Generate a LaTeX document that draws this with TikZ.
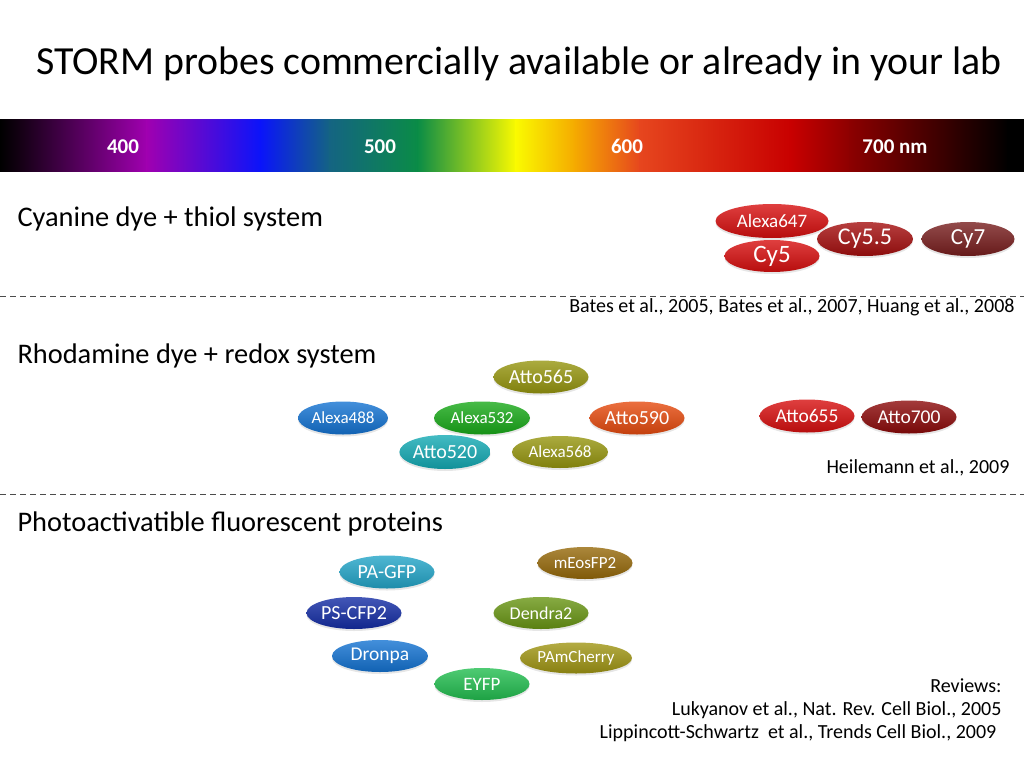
\documentclass[tikz,border=0pt]{standalone}
\usepackage{fontspec}
\setmainfont{Carlito}
\usepackage{xcolor}
\usetikzlibrary{shapes.geometric,shadows}

\definecolor{spk0}{RGB}{20,0,20}
\definecolor{spviolet}{RGB}{160,0,176}
\definecolor{spblue}{RGB}{10,20,250}
\definecolor{spteal}{RGB}{20,100,130}
\definecolor{spgreen}{RGB}{10,140,70}
\definecolor{spyellow}{RGB}{250,250,0}
\definecolor{sporange}{RGB}{245,170,0}
\definecolor{spredor}{RGB}{230,70,30}
\definecolor{spred}{RGB}{200,0,0}
\definecolor{spdark}{RGB}{140,0,0}
\definecolor{pred}{RGB}{215,15,15}
\definecolor{pdred}{RGB}{165,15,15}
\definecolor{pbrown}{RGB}{120,30,30}
\definecolor{pmaroon}{RGB}{140,10,10}
\definecolor{polive}{RGB}{150,150,15}
\definecolor{pblue}{RGB}{20,115,210}
\definecolor{pgreen}{RGB}{25,170,25}
\definecolor{porange}{RGB}{230,75,15}
\definecolor{pteal}{RGB}{20,170,180}
\definecolor{pcyan}{RGB}{35,165,200}
\definecolor{pnavy}{RGB}{20,45,165}
\definecolor{pmeos}{RGB}{150,105,10}
\definecolor{pdendra}{RGB}{105,150,20}
\definecolor{pcherry}{RGB}{160,150,20}
\definecolor{peyfp}{RGB}{35,190,80}

\begin{document}
\begin{tikzpicture}[x=1pt,y=-1pt,
    fs/.style={font=\fontsize{#1}{#1}\selectfont},
    fsb/.style={font=\fontsize{#1}{#1}\selectfont\bfseries},
    pill/.style={ellipse, inner sep=0pt, minimum width=95pt, minimum height=33pt,
                 text=white, fs=19,
                 drop shadow={opacity=0.2, shadow xshift=0pt, shadow yshift=-2pt}},
    glossy/.style={top color=#1!80!white, middle color=#1, bottom color=#1!85!black},
    heading/.style={anchor=west, fs=28.4},
    cite/.style={anchor=east, fs=20},
    sep/.style={dashed, dash pattern=on 6pt off 4pt, black!70, line width=1pt}]

  \useasboundingbox (0,0) rectangle (1024,768);

  \node[anchor=center, fs=39.8] (title) at (519,64)
    {STORM probes commercially available or already in your lab};

  % spectrum bar
  \foreach \xa/\ca/\xb/\cb in {0/black/20/spk0, 20/spk0/147/spviolet,
      147/spviolet/261/spblue, 261/spblue/330/spteal, 330/spteal/418/spgreen,
      418/spgreen/516/spyellow, 516/spyellow/575/sporange,
      575/sporange/640/spredor, 640/spredor/791/spred, 791/spred/850/spdark,
      850/spdark/1008/black, 1008/black/1024/black}
    \shade[left color=\ca, right color=\cb] (\xa-0.5,119) rectangle (\xb+0.5,171);
  \node[text=white, fsb=21, anchor=base] (w400) at (123,153) {400};
  \node[text=white, fsb=21, anchor=base] (w500) at (380,153) {500};
  \node[text=white, fsb=21, anchor=base] (w600) at (627,153) {600};
  \node[text=white, fsb=21, anchor=base] (w700) at (895,153) {700 nm};

  % cyanine dyes
  \node[heading] (cyhead) at (14,219) {Cyanine dye + thiol system};
  \node[pill, glossy=pred, minimum width=113pt, minimum height=34pt, fs=19] (alexa647) at (772,221) {Alexa647};
  \node[pill, glossy=pred, minimum height=32pt, fs=25] (cy5) at (772,256) {Cy5};
  \node[pill, glossy=pdred, minimum width=96pt, minimum height=34pt, fs=24] (cy55) at (865,239) {Cy5.5};
  \node[pill, glossy=pbrown, minimum width=93pt, minimum height=34pt, fs=23] (cy7) at (968,239) {Cy7};
  \node[cite] (cyref) at (1018,307) {Bates et al., 2005, Bates et al., 2007, Huang et al., 2008};

  \draw[sep] (0,296) -- (1024,296);

  % rhodamine dyes
  \node[heading] (rhhead) at (14,356) {Rhodamine dye + redox system};
  \node[pill, glossy=polive, fs=20] (atto565) at (541,377) {Atto565};
  \node[pill, glossy=pblue, minimum width=90pt, fs=17] (alexa488) at (343,418) {Alexa488};
  \node[pill, glossy=pgreen, minimum width=96pt, fs=17] (alexa532) at (482,418) {Alexa532};
  \node[pill, glossy=porange, fs=20] (atto590) at (637,418) {Atto590};
  \node[pill, glossy=pteal, minimum width=90pt, minimum height=34pt, fs=20] (atto520) at (445,452) {Atto520};
  \node[pill, glossy=polive, minimum width=96pt, minimum height=32pt, fs=17] (alexa568) at (560,452) {Alexa568};
  \node[pill, glossy=pred, fs=19.5] (atto655) at (807,416) {Atto655};
  \node[pill, glossy=pmaroon, fs=19.5] (atto700) at (909,417) {Atto700};
  \node[cite] (rhref) at (1013,468) {Heilemann et al., 2009};

  \draw[sep] (0,494) -- (1024,494);

  % fluorescent proteins
  \node[heading] (fphead) at (14,524) {Photoactivatible fluorescent proteins};
  \node[pill, glossy=pcyan, fs=20] (pagfp) at (387,572) {PA-GFP};
  \node[pill, glossy=pmeos, minimum height=32pt, fs=17] (meos) at (585,563) {mEosFP2};
  \node[pill, glossy=pnavy, minimum height=32pt, fs=20] (pscfp) at (354,613) {PS-CFP2};
  \node[pill, glossy=pdendra, minimum height=32pt, fs=18] (dendra) at (541,613) {Dendra2};
  \node[pill, glossy=pblue, minimum width=96pt, minimum height=32pt, fs=19.5] (dronpa) at (380,656) {Dronpa};
  \node[pill, glossy=pcherry, minimum width=112pt, minimum height=31pt, fs=17] (pamch) at (576,658) {PAmCherry};
  \node[pill, glossy=peyfp, minimum height=32pt, fs=19] (eyfp) at (482,684) {EYFP};

  \node[cite] (rev) at (1005,686) {Reviews:};
  \node[cite] (lukref) at (1005,710) {Lukyanov et al., Nat. Rev. Cell Biol., 2005};
  \node[cite] (lipref) at (1000,733) {Lippincott-Schwartz\ \ et al., Trends Cell Biol., 2009};
\end{tikzpicture}
\end{document}
